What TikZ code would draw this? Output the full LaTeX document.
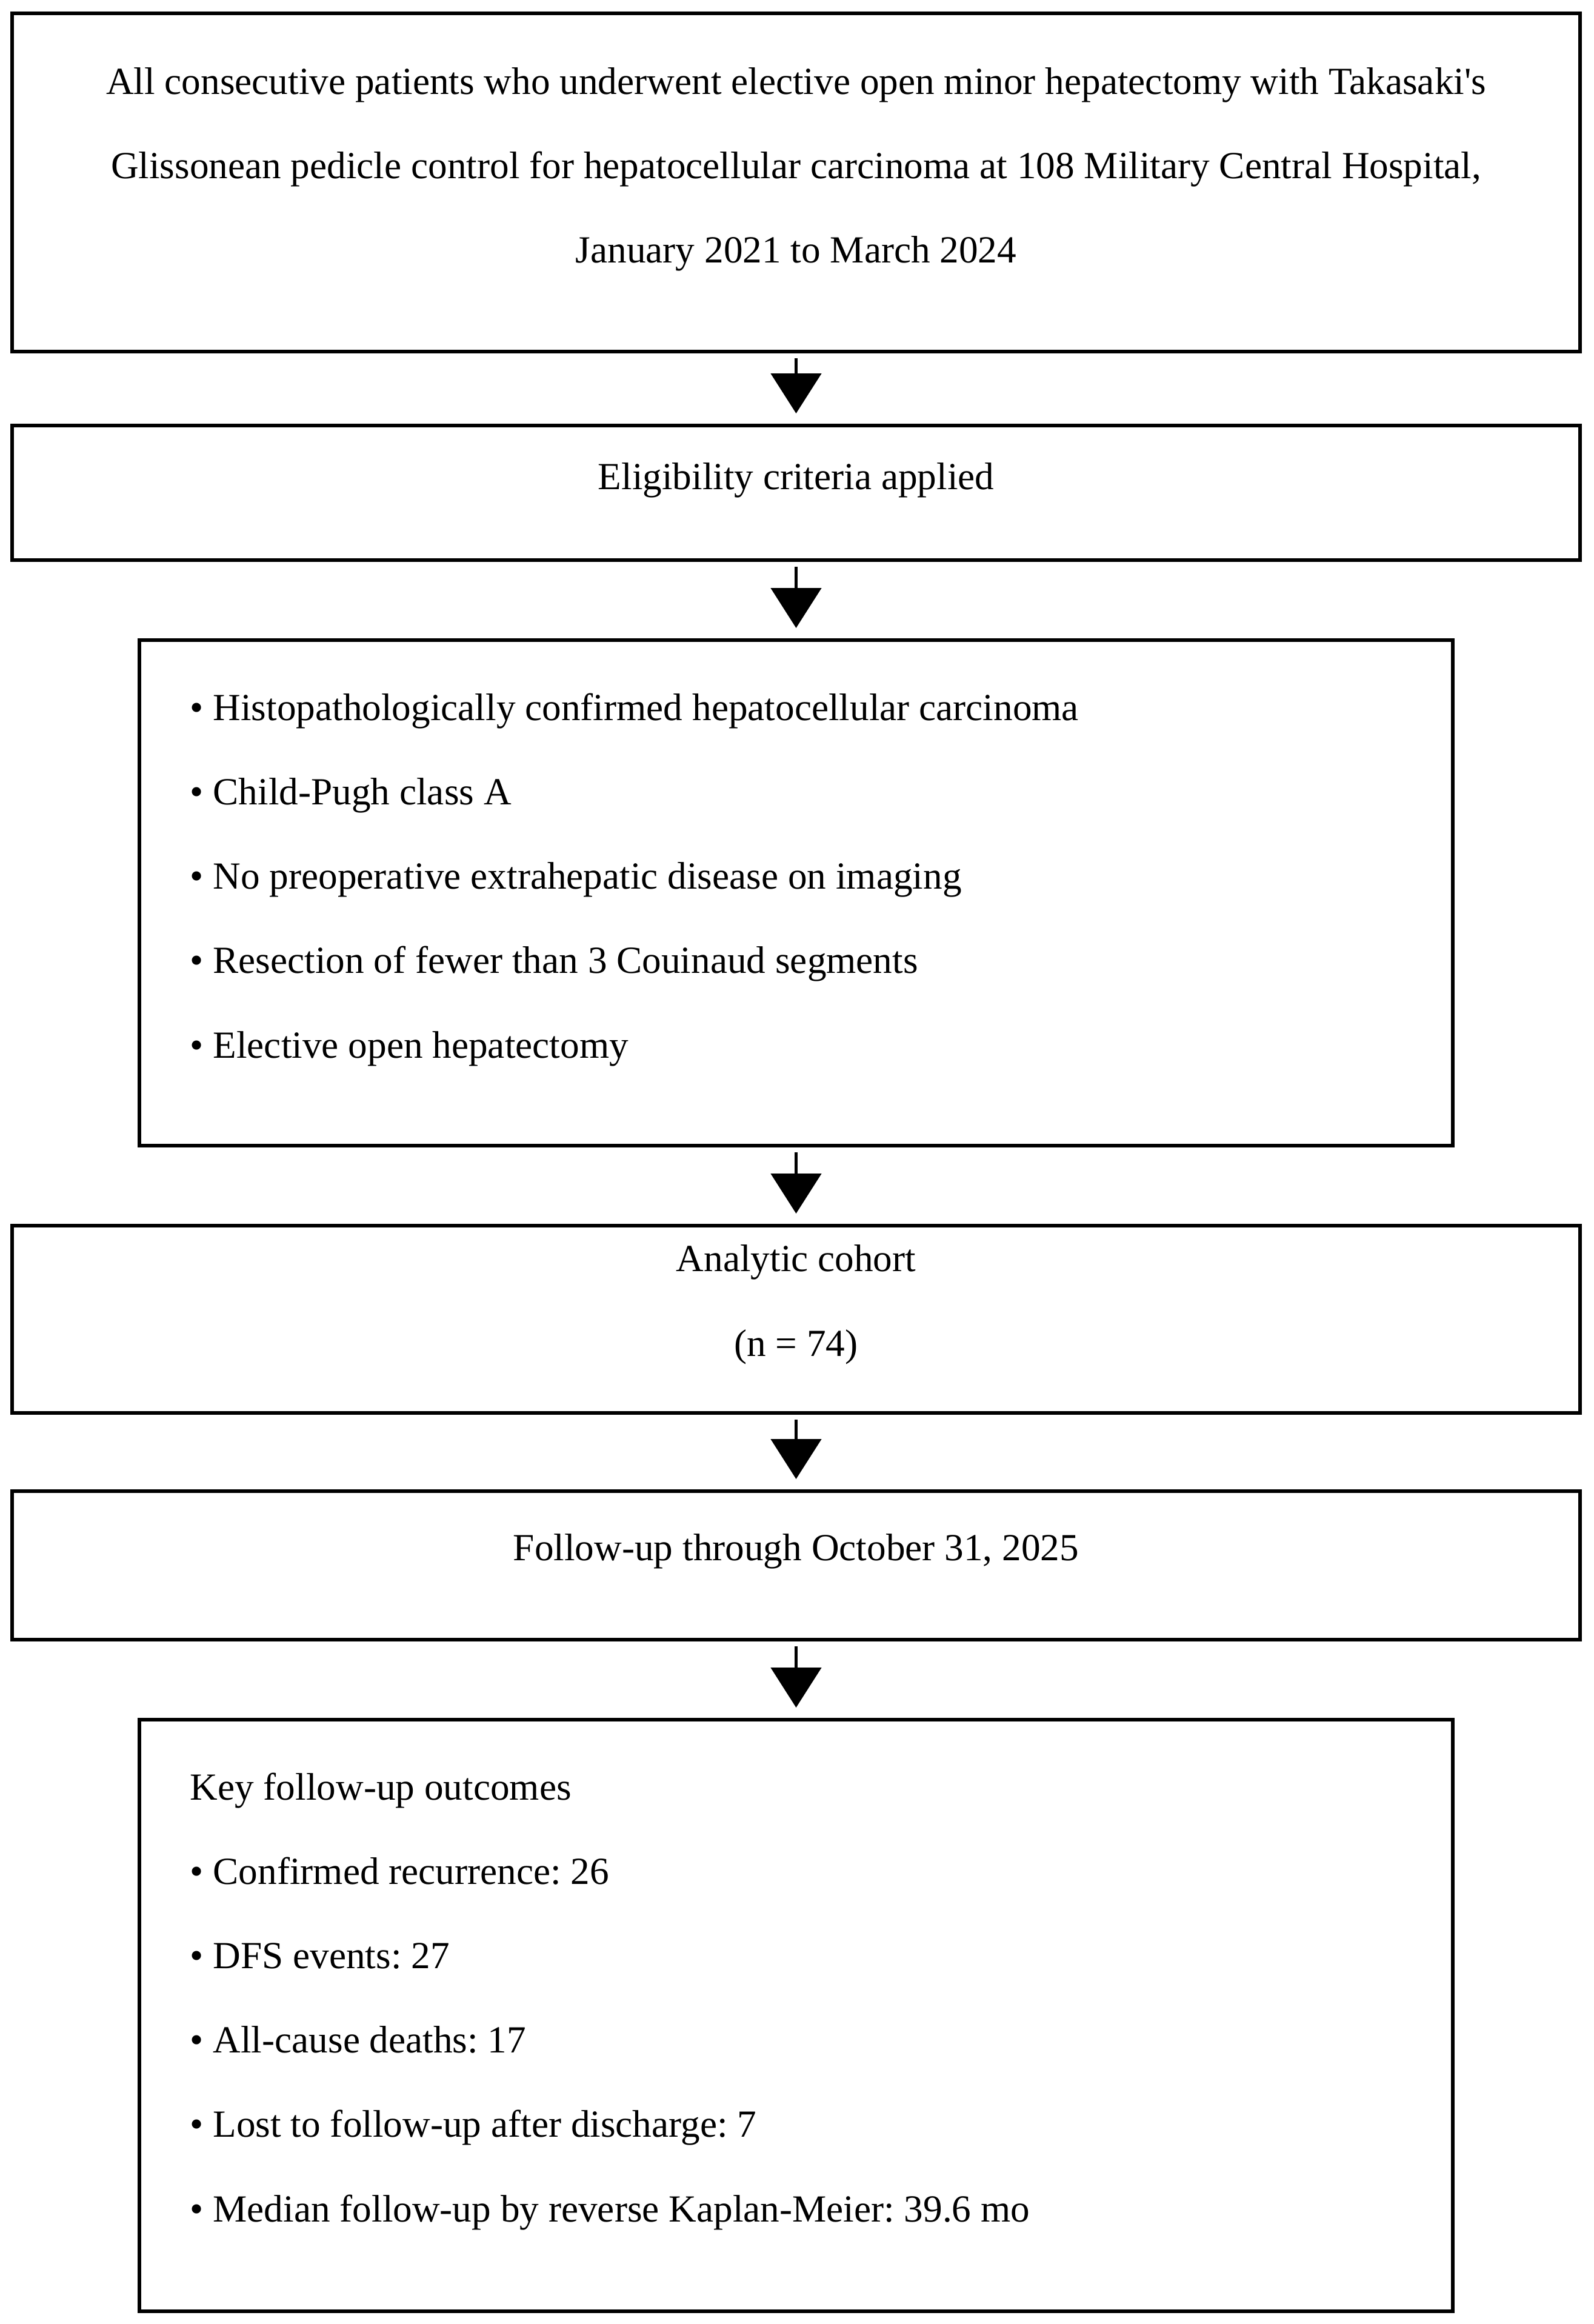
\documentclass[tikz,border=0pt]{standalone}
\usepackage{fontspec}
\setmainfont{Liberation Serif}
\usetikzlibrary{arrows.meta}
\frenchspacing
\def\flowbox{\node[draw=black, line width=1.7pt, inner sep=0pt]}
\def\flowtext{\node[inner sep=0pt, align=center, anchor=base]}
\def\listtext{\node[inner sep=0pt, align=left, anchor=base west]}
\def\drawflow{\draw[-{Triangle[width=8.3mm,length=6.6mm]}, line width=1.4pt, shorten <=0.8mm, shorten >=1.7mm]}

\begin{document}
\begin{tikzpicture}[font=\fontsize{18}{39.6}\selectfont]
\useasboundingbox (0,0) rectangle (26.29,-38.34);
% boxes
\flowbox[minimum width=25.87cm, minimum height=5.58cm] (source) at (13.135,-3.01) {};
\flowbox[minimum width=25.87cm, minimum height=2.22cm] (criteria) at (13.135,-8.13) {};
\flowbox[minimum width=21.67cm, minimum height=8.34cm] (inclusion) at (13.135,-14.73) {};
\flowbox[minimum width=25.87cm, minimum height=3.09cm] (cohort) at (13.135,-21.765) {};
\flowbox[minimum width=25.87cm, minimum height=2.45cm] (followup) at (13.135,-25.825) {};
\flowbox[minimum width=21.67cm, minimum height=9.76cm] (outcomes) at (13.135,-33.25) {};
% texts (base = last line)
\flowtext (sourcetxt) at (13.135,-4.34) {All consecutive patients who underwent elective open minor hepatectomy with Takasaki\textquotesingle s\\
Glissonean pedicle control for hepatocellular carcinoma at 108 Military Central Hospital,\\
January 2021 to March 2024};
\flowtext (criteriatxt) at (13.135,-8.07) {Eligibility criteria applied};
\listtext (inclusiontxt) at (3.13,-17.45) {\textbullet{} Histopathologically confirmed hepatocellular carcinoma\\
\textbullet{} Child-Pugh class A\\
\textbullet{} No preoperative extrahepatic disease on imaging\\
\textbullet{} Resection of fewer than 3 Couinaud segments\\
\textbullet{} Elective open hepatectomy};
\flowtext (cohorttxt) at (13.135,-22.37) {Analytic cohort\\ (n = 74)};
\flowtext (followuptxt) at (13.135,-25.74) {Follow-up through October 31, 2025};
\listtext (outcomestxt) at (3.13,-36.65) {Key follow-up outcomes\\
\textbullet{} Confirmed recurrence: 26\\
\textbullet{} DFS events: 27\\
\textbullet{} All-cause deaths: 17\\
\textbullet{} Lost to follow-up after discharge: 7\\
\textbullet{} Median follow-up by reverse Kaplan-Meier: 39.6 mo};
% arrows
\drawflow (source) -- (criteria);
\drawflow (criteria) -- (inclusion);
\drawflow (inclusion) -- (cohort);
\drawflow (cohort) -- (followup);
\drawflow (followup) -- (outcomes);
\end{tikzpicture}
\end{document}
